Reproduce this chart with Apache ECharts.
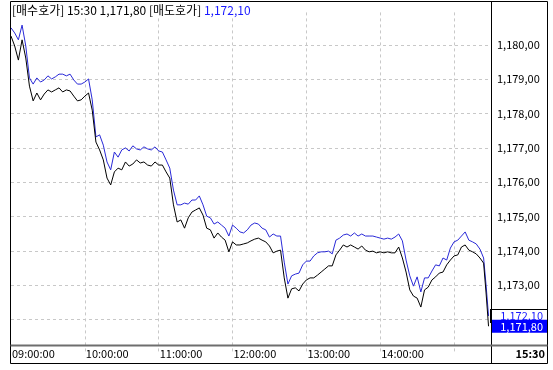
<!DOCTYPE html>
<html><head><meta charset="utf-8">
<script src="https://cdn.jsdelivr.net/npm/echarts@6/dist/echarts.min.js"></script>
<style>html,body{margin:0;padding:0;background:#fff}#c{width:553px;height:370px}</style>
</head><body><div id="c"></div>
<script>
// minutes after 09:00
const minutes = [0,3,6,9,12,15,18,21,24,27,30,33,36,39,42,45,48,51,54,57,60,63,66,69,72,75,78,81,84,87,90,93,96,99,102,105,108,111,114,117,120,123,126,129,132,135,138,141,144,147,150,153,156,159,162,165,168,171,174,177,180,183,186,189,192,195,198,201,204,207,210,213,216,219,222,225,228,231,234,237,240,243,246,249,252,255,258,261,264,267,270,273,276,279,282,285,288,291,294,297,300,303,306,309,312,315,318,321,324,327,330,333,336,339,342,345,348,351,354,357,360,363,366,369,372,375,378,381,384,386,388];
// 매도호가 (ask, blue)
const askPrices = [
1180.50,1180.35,1180.15,1180.58,1179.97,1179.04,1178.86,1179.04,1178.92,1178.98,
1179.10,1179.01,1179.07,1179.15,1179.15,1179.10,1179.15,1178.98,1178.86,1178.86,
1178.92,1179.01,1178.40,1177.32,1177.38,1177.08,1176.59,1176.36,1176.88,1176.73,
1176.94,1177.00,1176.91,1177.06,1176.97,1176.94,1177.03,1176.97,1176.94,1177.03,
1176.91,1176.88,1176.65,1176.41,1175.77,1175.34,1175.34,1175.39,1175.36,1175.48,
1175.48,1175.60,1175.34,1175.01,1174.96,1174.78,1174.84,1174.75,1174.66,1174.43,
1174.75,1174.66,1174.55,1174.52,1174.61,1174.75,1174.81,1174.78,1174.66,1174.61,
1174.40,1174.49,1174.43,1174.43,1173.67,1173.03,1173.27,1173.32,1173.35,1173.59,
1173.70,1173.70,1173.85,1173.94,1173.97,1173.97,1173.99,1173.91,1174.31,1174.37,
1174.46,1174.49,1174.43,1174.52,1174.43,1174.49,1174.43,1174.43,1174.43,1174.40,
1174.37,1174.34,1174.37,1174.34,1174.40,1174.49,1174.29,1173.73,1173.27,1172.97,
1173.24,1172.80,1173.21,1173.21,1173.41,1173.59,1173.56,1173.79,1173.73,1174.08,
1174.26,1174.31,1174.43,1174.55,1174.31,1174.26,1174.20,1174.05,1173.79,1173.00,1172.10];
// 매수호가 (bid, black)
const bidPrices = [
1180.26,1179.97,1179.56,1180.15,1179.62,1178.80,1178.37,1178.60,1178.40,1178.57,
1178.69,1178.63,1178.69,1178.75,1178.63,1178.69,1178.66,1178.51,1178.37,1178.40,
1178.51,1178.60,1178.10,1177.17,1176.94,1176.65,1176.12,1175.92,1176.30,1176.41,
1176.36,1176.59,1176.47,1176.53,1176.65,1176.56,1176.59,1176.50,1176.47,1176.59,
1176.50,1176.50,1176.30,1176.12,1175.34,1174.84,1174.90,1174.66,1174.96,1175.13,
1175.19,1175.25,1175.04,1174.66,1174.61,1174.37,1174.52,1174.40,1174.31,1173.97,
1174.26,1174.17,1174.17,1174.20,1174.23,1174.29,1174.34,1174.37,1174.31,1174.26,
1174.14,1173.94,1173.99,1174.02,1173.21,1172.62,1172.89,1172.92,1172.83,1173.03,
1173.15,1173.21,1173.21,1173.29,1173.38,1173.47,1173.56,1173.56,1173.88,1174.02,
1174.17,1174.11,1174.17,1174.11,1174.05,1174.14,1174.02,1173.97,1173.99,1173.94,
1173.97,1173.94,1173.97,1173.94,1173.94,1174.11,1173.79,1173.38,1172.86,1172.68,
1172.62,1172.36,1172.86,1172.94,1173.15,1173.24,1173.35,1173.38,1173.59,1173.73,
1173.85,1173.88,1174.11,1174.17,1174.02,1173.97,1173.91,1173.79,1173.64,1172.77,1171.80];
const hourTicks = [0,60,120,180,240,300,360];
const hourLabels = ['09:00:00','10:00:00','11:00:00','12:00:00','13:00:00','14:00:00','15:00:00'];
const closeMinute = 390;
const closeLabel = '15:30';
const yLabelValues = [1173,1174,1175,1176,1177,1178,1179,1180];
const bidName = '매수호가', askName = '매도호가';

const FONT = '"Noto Sans CJK KR","Noto Sans",sans-serif';
function fmt(v){
  const s = v.toFixed(2).split('.');
  return s[0].replace(/\B(?=(\d{3})+(?!\d))/g, ',') + ',' + s[1];
}
const lastAsk = askPrices[askPrices.length-1];
const lastBid = bidPrices[bidPrices.length-1];

const chart = echarts.init(document.getElementById('c'), null, {renderer:'canvas'});
chart.setOption({
  animation:false,
  backgroundColor:'#fff',
  title:{
    left:11, top:3, padding:[1,3,1,1], backgroundColor:'#fff',
    text:'{k|[' + bidName + '] ' + closeLabel + ' ' + fmt(lastBid) + ' [' + askName + '] }{v|' + fmt(lastAsk) + '}',
    textStyle:{rich:{
      k:{fontSize:12, color:'#000', fontFamily:FONT, fontWeight:'normal'},
      v:{fontSize:12, color:'#1a1aff', fontFamily:FONT, fontWeight:'normal'}
    }}
  },
  grid:{left:11, right:62, top:12.4, bottom:16.3, containLabel:false},
  xAxis:{
    type:'value', min:0, max:closeMinute, interval:60,
    axisLine:{show:false}, axisTick:{show:false},
    splitLine:{show:true, showMinLine:false, showMaxLine:false, lineStyle:{color:'#c8c8c8', type:[3,3], width:1}},
    axisLabel:{
      customValues: hourTicks.slice(0,6).concat([closeMinute]),
      showMaxLabel:true, showMinLabel:true,
      margin:0, verticalAlign:'middle', align:'left', padding:[0,0,0,1],
      fontSize:11, color:'#000', fontFamily:FONT,
      formatter:function(v){
        if (v === closeMinute) return '{b|' + closeLabel + '}';
        const i = hourTicks.indexOf(v);
        return i >= 0 ? hourLabels[i] : '';
      },
      rich:{b:{fontWeight:'bold', fontSize:11, color:'#000', fontFamily:FONT, width:53, align:'right'}}
    }
  },
  yAxis:{
    type:'value', position:'right', min:1171, max:1180.95, interval:1,
    axisLine:{show:false},
    axisTick:{show:false},
    minorTick:{show:false},
    splitLine:{show:true, showMinLine:false, showMaxLine:false, lineStyle:{color:'#c8c8c8', type:[3,3], width:1}},
    axisLabel:{customValues:yLabelValues, margin:6, fontSize:11, color:'#000', fontFamily:FONT,
      formatter:function(v){ return fmt(v); }}
  },
  series:[
    {
      name:askName, type:'line', symbol:'none', z:3,
      data: minutes.map(function(m,i){ return [m, askPrices[i]]; }),
      lineStyle:{color:'#2a2ad8', width:1},
      markLine:{
        silent:true, symbol:['none','none'], animation:false, z:10,
        lineStyle:{color:'rgba(0,0,0,0)', width:1, type:'solid'},
        label:{show:true, position:'end', distance:0, formatter:'{v|' + fmt(lastAsk) + '}',
          backgroundColor:'#fff', borderColor:'#000', borderWidth:1, padding:[0,0,0,0],
          rich:{v:{width:52, align:'right', fontSize:11, lineHeight:12, color:'#1a1aff', fontFamily:FONT, padding:[0,4,0,0]}}},
        emphasis:{disabled:true},
        data:[{yAxis:lastAsk}]
      }
    },
    {
      name:bidName, type:'line', symbol:'none', z:4,
      data: minutes.map(function(m,i){ return [m, bidPrices[i]]; }),
      lineStyle:{color:'#000', width:1},
      markLine:{
        silent:true, symbol:['none','none'], animation:false, z:11,
        lineStyle:{color:'rgba(0,0,0,0)', width:1, type:'solid'},
        label:{show:true, position:'end', distance:0, formatter:'{v|' + fmt(lastBid) + '}',
          backgroundColor:'#0000ff', padding:[1,0,0,0],
          rich:{v:{width:52, align:'right', fontSize:11, lineHeight:12, color:'#fff', fontFamily:FONT, padding:[0,4,0,0]}}},
        emphasis:{disabled:true},
        data:[{yAxis:lastBid}]
      }
    }
  ],
  graphic:[
    {type:'rect', silent:true, z:100, shape:{x:10.5, y:1.5, width:537, height:362}, style:{fill:null, stroke:'#000', lineWidth:1}},
    {type:'line', silent:true, z:100, shape:{x1:491.5, y1:1.5, x2:491.5, y2:363.5}, style:{stroke:'#000', lineWidth:1}},
    {type:'line', silent:true, z:100, shape:{x1:10.5, y1:345.5, x2:547.5, y2:345.5}, style:{stroke:'#6e6e6e', lineWidth:2}}
  ]
});
</script>
</body></html>
